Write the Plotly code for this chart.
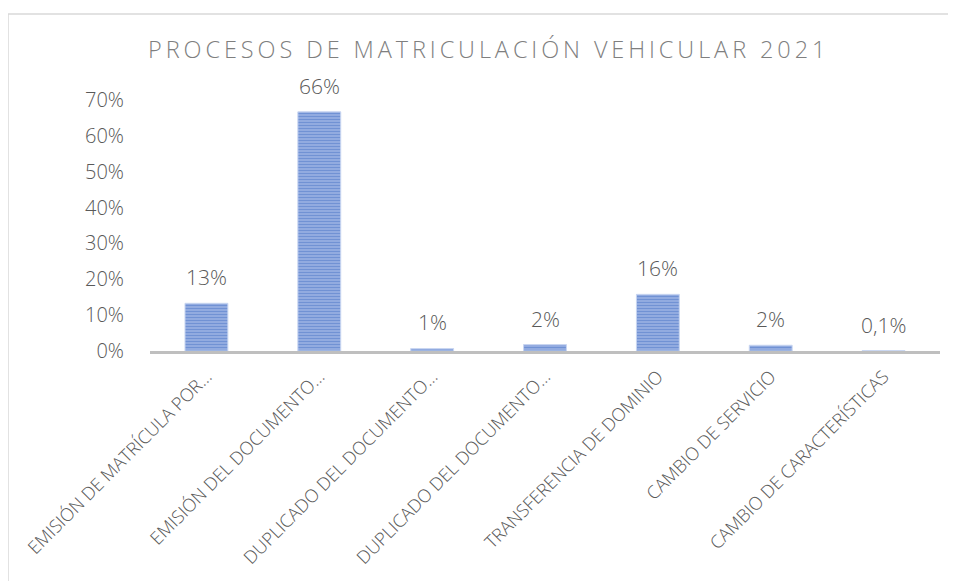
import plotly.graph_objects as go

categories = [
    "EMISIÓN DE MATRÍCULA POR…",
    "EMISIÓN DEL DOCUMENTO…",
    "DUPLICADO DEL DOCUMENTO…",
    "DUPLICADO DEL DOCUMENTO…",
    "TRANSFERENCIA DE DOMINIO",
    "CAMBIO DE SERVICIO",
    "CAMBIO DE CARACTERÍSTICAS",
]
# unique keys for the category axis (two labels repeat)
cat_keys = [f"c{i}" for i in range(len(categories))]
values = [0.133, 0.667, 0.007, 0.018, 0.158, 0.016, 0.001]
value_labels = ["13%", "66%", "1%", "2%", "16%", "2%", "0,1%"]
y_ticks = [0, 0.1, 0.2, 0.3, 0.4, 0.5, 0.6, 0.7]
y_tick_labels = ["0%", "10%", "20%", "30%", "40%", "50%", "60%", "70%"]
title_text = "PROCESOS DE MATRICULACIÓN VEHICULAR 2021"

FONT = "Open Sans"
GRAY = "#595959"

# page has an 8px body margin: size the figure so it fills the window
W, H = 948, 573
ML, MR, MT, MB = 142, 16, 92, 227

fig = go.Figure()
fig.add_trace(go.Bar(
    x=cat_keys, y=values,
    marker=dict(
        color="#4472C4",
        line=dict(color="#c9d6f1", width=1),
        pattern=dict(shape="-", fgcolor="#3a66c0", bgcolor="#a9bee9",
                     size=3, solidity=0.62, fillmode="overlay"),
    ),
    hoverinfo="skip",
))

for k, v, t in zip(cat_keys, values, value_labels):
    fig.add_annotation(x=k, y=v, text=t, showarrow=False, yanchor="bottom",
                       yshift=10, font=dict(family=FONT, size=21, color=GRAY, weight=300))

spaced_title = "\u2009".join(title_text)

fig.update_layout(
    width=W, height=H,
    margin=dict(l=ML, r=MR, t=MT, b=MB),
    paper_bgcolor="white", plot_bgcolor="white",
    bargap=0.62,
    showlegend=False,
    font=dict(family=FONT, color=GRAY),
    title=dict(text=spaced_title, x=0.505, xanchor="center", y=0.927, yanchor="middle",
               font=dict(family=FONT, size=23.5, color="#7f7f7f", weight=300)),
    xaxis=dict(
        tickmode="array", tickvals=cat_keys, ticktext=categories,
        tickangle=-45, tickfont=dict(family=FONT, size=18, color=GRAY, weight=300),
        showline=True, linecolor="#BFBFBF", linewidth=3,
        showgrid=False, ticks="", zeroline=False, ticklabelstandoff=5,
    ),
    yaxis=dict(
        range=[0, 0.7], tickmode="array", tickvals=y_ticks, ticktext=y_tick_labels,
        tickfont=dict(family=FONT, size=20, color=GRAY, weight=300),
        showgrid=False, zeroline=False, showline=False, ticks="",
        ticklabelstandoff=25,
    ),
)

# outer chart border (light gray), partially visible at left/top
pw = W - ML - MR
ph = H - MT - MB
fig.add_shape(type="rect", xref="paper", yref="paper",
              x0=(0 - ML) / pw, x1=2.0, y0=-2.0, y1=(ph + MT - 5) / ph,
              line=dict(color="#D9D9D9", width=1.5), fillcolor="rgba(0,0,0,0)", layer="below")

fig.write_html("out.html")
